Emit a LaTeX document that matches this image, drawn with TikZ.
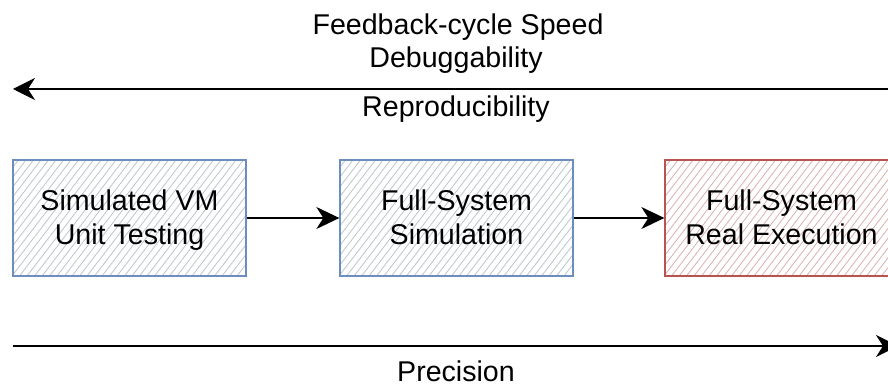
\documentclass[tikz,border=0pt]{standalone}
\usepackage{fontspec}
\setmainfont{Liberation Sans}
\usetikzlibrary{arrows.meta}
\definecolor{bluestroke}{HTML}{6C8EBF}
\definecolor{bluehatch}{HTML}{BEC5D0}
\definecolor{redstroke}{HTML}{B85450}
\definecolor{redhatch}{HTML}{DBB0B0}
\newcommand{\topstrut}{\rule{0pt}{25pt}}
\newcommand{\botstrut}{\rule[-6pt]{0pt}{6pt}}
\tikzset{
  lbl/.style={inner sep=0pt, anchor=base, font=\fontsize{28.6}{35}\selectfont},
  stagebox/.style={draw=#1stroke, line width=1.3pt, minimum width=233pt, minimum height=116pt,
    inner sep=0pt, align=center, font=\fontsize{28.6}{35}\selectfont,
    path picture={
      \foreach \i in {-270,-262.5,...,100}
        \draw[#1hatch, line width=0.8pt]
          ([xshift=\i pt, yshift=-120pt]path picture bounding box.center) -- ++(184pt,240pt);
    }},
  flow/.style={line width=1.5pt, -{Stealth[length=23pt, width=22pt, inset=7pt]}},
  axis/.style={line width=1.6pt, -{Stealth[length=22pt, width=22pt, inset=7pt]}}
}
\begin{document}
\begin{tikzpicture}[x=1pt, y=-1pt]
\clip (0,0) rectangle (888,387);
\fill[white] (0,0) rectangle (888,387);

\node[lbl] (speed) at (458,35) {Feedback-cycle Speed};
\node[lbl] (debug) at (456,68) {Debuggability};
\node[lbl] (repro) at (456,117) {Reproducibility};
\node[lbl] (prec) at (456,381) {Precision};

\coordinate (topR) at (900,89);
\coordinate (topL) at (13,89);
\draw[axis] (topR) -- (topL);

\coordinate (botL) at (13,346);
\coordinate (botR) at (898,346);
\draw[axis] (botL) -- (botR);

\node[stagebox=blue] (vm) at (129.5,218) {\topstrut Simulated VM\\Unit Testing\botstrut};
\node[stagebox=blue] (sim) at (456.5,218) {\topstrut Full-System\\Simulation\botstrut};
\node[stagebox=red] (real) at (781.5,218) {\topstrut Full-System\\Real Execution\botstrut};

\draw[flow] (vm) -- (sim);
\draw[flow] (sim) -- (real);
\end{tikzpicture}
\end{document}
